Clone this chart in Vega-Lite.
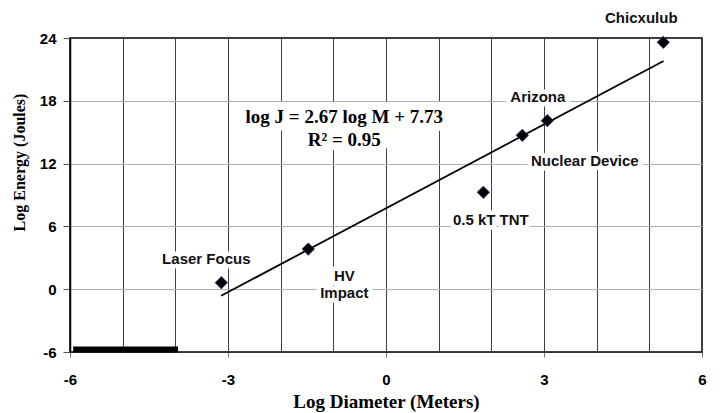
{
  "$schema": "https://vega.github.io/schema/vega-lite/v6.json",
  "width": 632,
  "height": 314,
  "autosize": {"type": "none"},
  "padding": {"left": 70, "top": 38, "right": 18, "bottom": 61},
  "background": "white",
  "config": {
    "view": {"stroke": "#000", "strokeWidth": 1.5},
    "text": {"font": "Liberation Sans", "fontWeight": "bold", "fontSize": 15, "color": "#111", "align": "center", "baseline": "middle"}
  },
  "datasets": {
    "points": [
      {"name": "Laser Focus", "x": -3.127, "y": 0.62},
      {"name": "HV Impact", "x": -1.475, "y": 3.84},
      {"name": "0.5 kT TNT", "x": 1.848, "y": 9.26},
      {"name": "Nuclear Device", "x": 2.588, "y": 14.7},
      {"name": "Arizona", "x": 3.063, "y": 16.1},
      {"name": "Chicxulub", "x": 5.265, "y": 23.59}
    ],
    "fit": [{"x": -3.13, "y": -0.63}, {"x": 5.27, "y": 21.8}],
    "bar": [{"x": -5.94, "x2": -3.95, "y": -5.75}]
  },
  "resolve": {"axis": {"x": "independent", "y": "independent"}},
  "layer": [
    {
      "data": {"name": "bar"},
      "mark": {"type": "rule", "color": "#000", "strokeWidth": 6, "strokeCap": "butt"},
      "encoding": {
        "x": {"field": "x", "type": "quantitative", "scale": {"domain": [-6, 6], "nice": false, "zero": false},
              "axis": {"orient": "bottom", "grid": true, "gridColor": "#404040", "gridWidth": 1, "values": [-5, -4, -3, -2, -1, 0, 1, 2, 3, 4, 5], "ticks": false, "labels": false, "domain": false, "title": null}},
        "x2": {"field": "x2"},
        "y": {"field": "y", "type": "quantitative", "scale": {"domain": [-6, 24], "nice": false, "zero": false},
              "axis": {"orient": "left", "grid": true, "gridColor": "#b0b0b0", "gridWidth": 1.2, "values": [0, 6, 12, 18], "ticks": false, "labels": false, "domain": false, "title": null}}
      }
    },
    {
      "data": {"name": "points"},
      "encoding": {
        "x": {"field": "x", "type": "quantitative", "scale": {"domain": [-6, 6], "nice": false, "zero": false}, "axis": null},
        "y": {"field": "y", "type": "quantitative", "scale": {"domain": [-6, 24], "nice": false, "zero": false}, "axis": null},
        "text": {"field": "name"}
      },
      "layer": [
        {"transform": [{"filter": "datum.name === 'Laser Focus'"}], "mark": {"type": "text", "fontWeight": "bold", "dx": -15, "dy": -23.5, "fill": "white", "stroke": "white", "strokeWidth": 9, "strokeJoin": "round"}},
        {"transform": [{"filter": "datum.name === 'HV Impact'"}], "mark": {"type": "text", "fontWeight": "bold", "dx": 36, "dy": 27.2, "lineBreak": " ", "lineHeight": 17, "fill": "white", "stroke": "white", "strokeWidth": 9, "strokeJoin": "round"}},
        {"transform": [{"filter": "datum.name === '0.5 kT TNT'"}], "mark": {"type": "text", "fontWeight": "bold", "dx": 7.5, "dy": 27.4, "fill": "white", "stroke": "white", "strokeWidth": 9, "strokeJoin": "round"}},
        {"transform": [{"filter": "datum.name === 'Nuclear Device'"}], "mark": {"type": "text", "fontWeight": "bold", "dx": 62.5, "dy": 26, "fill": "white", "stroke": "white", "strokeWidth": 9, "strokeJoin": "round"}},
        {"transform": [{"filter": "datum.name === 'Arizona'"}], "mark": {"type": "text", "fontWeight": "bold", "dx": -9.5, "dy": -24, "fill": "white", "stroke": "white", "strokeWidth": 9, "strokeJoin": "round"}},
        {"transform": [{"filter": "datum.name === 'Chicxulub'"}], "mark": {"type": "text", "fontWeight": "bold", "dx": -22, "dy": -24, "fill": "white", "stroke": "white", "strokeWidth": 9, "strokeJoin": "round"}}
      ]
    },
    {
      "data": {"values": [{}]},
      "mark": {"type": "text", "text": ["log J = 2.67 log M + 7.73", "R² = 0.95"], "font": "Liberation Serif", "fontWeight": "bold", "fontSize": 19, "lineHeight": 23, "fill": "white", "stroke": "white", "strokeWidth": 16, "strokeJoin": "round"},
      "encoding": {
        "x": {"datum": -0.792, "type": "quantitative", "scale": {"domain": [-6, 6], "nice": false, "zero": false}, "axis": null},
        "y": {"datum": 16.5, "type": "quantitative", "scale": {"domain": [-6, 24], "nice": false, "zero": false}, "axis": null}
      }
    },
    {
      "data": {"name": "fit"},
      "mark": {"type": "line", "color": "#000", "strokeWidth": 1.8},
      "encoding": {
        "x": {"field": "x", "type": "quantitative", "scale": {"domain": [-6, 6], "nice": false, "zero": false}, "axis": null},
        "y": {"field": "y", "type": "quantitative", "scale": {"domain": [-6, 24], "nice": false, "zero": false}, "axis": null}
      }
    },
    {
      "data": {"name": "points"},
      "mark": {"type": "point", "shape": "diamond", "filled": true, "fill": "#000", "stroke": "#2c2c6e", "strokeWidth": 1, "size": 150, "opacity": 1},
      "encoding": {
        "x": {"field": "x", "type": "quantitative", "scale": {"domain": [-6, 6], "nice": false, "zero": false},
              "axis": {"orient": "bottom", "values": [-6, -3, 0, 3, 6], "labelExpr": "'' + datum.value", "grid": false, "tickSize": 5, "tickColor": "#777", "labelPadding": 15, "labelFlush": false,
                       "labelFont": "Liberation Sans", "labelFontWeight": "bold", "labelFontSize": 15, "labelColor": "#000",
                       "domainColor": "#333", "domainWidth": 1,
                       "title": "Log Diameter (Meters)", "titleFont": "Liberation Serif", "titleFontSize": 19, "titleFontWeight": "bold", "titleColor": "#000",
                       "titleY": 55, "titleBaseline": "alphabetic"}},
        "y": {"field": "y", "type": "quantitative", "scale": {"domain": [-6, 24], "nice": false, "zero": false},
              "axis": {"orient": "left", "values": [-6, 0, 6, 12, 18, 24], "labelExpr": "'' + datum.value", "grid": false, "tickSize": 7, "tickColor": "#555", "labelPadding": 7, "labelFlush": false,
                       "labelFont": "Liberation Sans", "labelFontWeight": "bold", "labelFontSize": 15, "labelColor": "#000",
                       "domainColor": "#000", "domainWidth": 1.5,
                       "title": "Log Energy (Joules)", "titleFont": "Liberation Serif", "titleFontSize": 16, "titleFontWeight": "bold", "titleColor": "#000",
                       "titleX": -46, "titleY": 124, "titleAngle": 270, "titleAlign": "center", "titleBaseline": "alphabetic"}}
      }
    },
    {
      "data": {"name": "points"},
      "encoding": {
        "x": {"field": "x", "type": "quantitative", "scale": {"domain": [-6, 6], "nice": false, "zero": false}, "axis": null},
        "y": {"field": "y", "type": "quantitative", "scale": {"domain": [-6, 24], "nice": false, "zero": false}, "axis": null},
        "text": {"field": "name"}
      },
      "layer": [
        {"transform": [{"filter": "datum.name === 'Laser Focus'"}], "mark": {"type": "text", "fontWeight": "bold", "dx": -15, "dy": -23.5}},
        {"transform": [{"filter": "datum.name === 'HV Impact'"}], "mark": {"type": "text", "fontWeight": "bold", "dx": 36, "dy": 27.2, "lineBreak": " ", "lineHeight": 17}},
        {"transform": [{"filter": "datum.name === '0.5 kT TNT'"}], "mark": {"type": "text", "fontWeight": "bold", "dx": 7.5, "dy": 27.4}},
        {"transform": [{"filter": "datum.name === 'Nuclear Device'"}], "mark": {"type": "text", "fontWeight": "bold", "dx": 62.5, "dy": 26}},
        {"transform": [{"filter": "datum.name === 'Arizona'"}], "mark": {"type": "text", "fontWeight": "bold", "dx": -9.5, "dy": -24}},
        {"transform": [{"filter": "datum.name === 'Chicxulub'"}], "mark": {"type": "text", "fontWeight": "bold", "dx": -22, "dy": -24}}
      ]
    },
    {
      "data": {"values": [{}]},
      "mark": {"type": "text", "text": ["log J = 2.67 log M + 7.73", "R² = 0.95"], "font": "Liberation Serif", "fontWeight": "bold", "fontSize": 19, "lineHeight": 23, "color": "#000"},
      "encoding": {
        "x": {"datum": -0.792, "type": "quantitative", "scale": {"domain": [-6, 6], "nice": false, "zero": false}, "axis": null},
        "y": {"datum": 16.5, "type": "quantitative", "scale": {"domain": [-6, 24], "nice": false, "zero": false}, "axis": null}
      }
    }
  ]
}
